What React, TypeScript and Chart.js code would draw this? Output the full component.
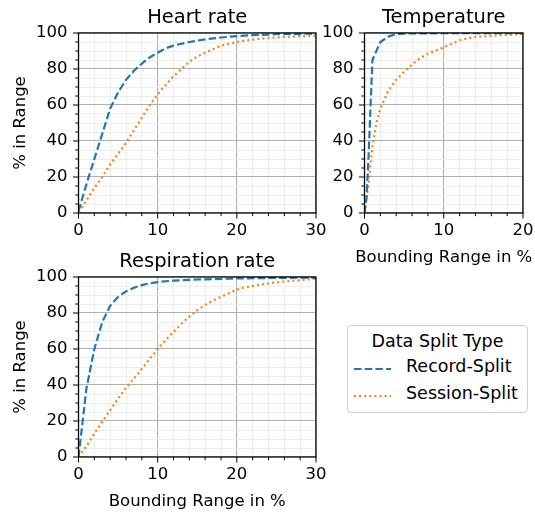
import React, { useEffect, useRef } from 'react';
import { Chart, registerables } from 'chart.js';

Chart.register(...registerables);

// ---------- data ----------
const heartRecordX = [0, 1, 2, 3, 4, 5, 6, 7, 8, 9, 10, 11, 12, 14, 16, 18, 20, 22, 25, 30];
const heartRecordY = [1, 16, 30, 44, 58, 67, 74, 79, 83, 86.5, 89, 91.5, 93, 95, 96.5, 97.5, 98.3, 98.8, 99.3, 99.7];
const heartSessionX = [0, 1, 2, 3, 4, 5, 6, 7, 8, 9, 10, 11, 12, 13, 14, 15, 16, 17, 18, 19, 20, 22, 24, 26, 28, 30];
const heartSessionY = [0.5, 7, 14, 20, 27, 33, 39, 46, 53, 60, 66, 71, 76, 80, 84, 87, 89, 91, 93, 94, 95, 96.3, 97.2, 97.8, 98.3, 98.6];

const tempRecordX = [0, 0.25, 0.5, 0.75, 1, 2, 3, 4, 5, 7, 10, 15, 20];
const tempRecordY = [0, 8, 30, 58, 85, 95, 98, 99.4, 99.7, 99.8, 99.9, 99.9, 100];
const tempSessionX = [0, 0.5, 1, 1.5, 2, 2.5, 3, 4, 5, 6, 7, 8, 9, 10, 11, 12, 13, 14, 16, 18, 20];
const tempSessionY = [0, 16, 37, 50, 58, 63, 68, 74, 78.5, 82.5, 86, 88.5, 90.3, 92, 94, 96, 97, 97.8, 98.5, 99, 99.5];

const respRecordX = [0, 1, 2, 3, 4, 5, 6, 7, 8, 9, 10, 12, 15, 20, 25, 30];
const respRecordY = [0, 38, 60, 75, 84, 89, 92, 94, 95.5, 96.5, 97.2, 98, 98.6, 99.2, 99.5, 99.7];
const respSessionX = [0, 1, 2, 3, 4, 5, 6, 7, 8, 9, 10, 11, 12, 13, 14, 15, 16, 17, 18, 19, 20, 21, 22, 24, 26, 28, 30];
const respSessionY = [0, 6, 13, 19.7, 26, 32.5, 38.6, 43.5, 49, 54.5, 60, 65, 69.5, 74, 78, 81.5, 84.5, 87, 89, 91, 93, 94.3, 95, 96.5, 97.5, 98.3, 99];

const seriesNames = ['Record-Split', 'Session-Split'];
const legendTitle = 'Data Split Type';
const panelTitles = ['Heart rate', 'Temperature', 'Respiration rate'];
const xAxisLabel = 'Bounding Range in %';
const yAxisLabel = '% in Range';
const xMaxes = [30, 20, 30];
const yMax = 100;
const xMajor = 10;
const xMinor = 2;
const yMajor = 20;
const yMinor = 5;

// ---------- styling ----------
const FONT = '"DejaVu Sans", sans-serif';
const BASE = 16.5;
const LEGEND_FONT = 17.5;
const TITLE = 19.5;
const BLUE = '#1f77b4';
const ORANGE = '#ff7f0e';
const DASH = [7.5, 3.2];
const DOT = [2, 3.1];

const zip = (xs: number[], ys: number[]) => xs.map((x, i) => ({ x, y: ys[i] }));

const decor = {
  id: 'decor',
  afterDraw(chart: any, _args: any, opts: any) {
    const { ctx, chartArea: a } = chart;
    const xs = chart.scales.x;
    const ys = chart.scales.y;
    ctx.save();
    ctx.strokeStyle = '#000';
    ctx.lineWidth = 1;
    ctx.beginPath();
    xs.ticks.forEach((t: any) => {
      const px = xs.getPixelForValue(t.value);
      const len = t.value % xMajor === 0 ? 5.5 : 3.2;
      ctx.moveTo(px, a.bottom);
      ctx.lineTo(px, a.bottom + len);
    });
    ys.ticks.forEach((t: any) => {
      const py = ys.getPixelForValue(t.value);
      const len = t.value % yMajor === 0 ? 5.5 : 3.2;
      ctx.moveTo(a.left, py);
      ctx.lineTo(a.left - len, py);
    });
    ctx.stroke();
    ctx.lineWidth = 1.25;
    ctx.strokeRect(a.left, a.top, a.right - a.left, a.bottom - a.top);

    ctx.fillStyle = '#000';
    ctx.textAlign = 'center';
    ctx.textBaseline = 'alphabetic';
    const cx = (a.left + a.right) / 2;
    ctx.font = `${TITLE}px ${FONT}`;
    ctx.fillText(opts.title, cx, a.top - 9.6);
    ctx.font = `${BASE}px ${FONT}`;
    if (opts.xLabel) ctx.fillText(opts.xLabel, cx, a.bottom + 48.5);
    if (opts.yLabel) {
      ctx.translate(24.5, (a.top + a.bottom) / 2);
      ctx.rotate(-Math.PI / 2);
      ctx.fillText(opts.yLabel, 0, 0);
    }
    ctx.restore();
  },
};

type Panel = {
  left: number; top: number; w: number; h: number;
  padTop: number; padRight: number; yWidth: number; xHeight: number;
  title: string; xMax: number; xLabel?: string; yLabel?: string;
  rec: { x: number; y: number }[]; ses: { x: number; y: number }[];
};

const panels: Panel[] = [
  {
    left: 0, top: 0, w: 330, h: 240, padTop: 33, padRight: 14, yWidth: 78.5, xHeight: 27,
    title: panelTitles[0], xMax: xMaxes[0], yLabel: yAxisLabel,
    rec: zip(heartRecordX, heartRecordY), ses: zip(heartSessionX, heartSessionY),
  },
  {
    left: 315, top: 0, w: 220, h: 270, padTop: 33, padRight: 12, yWidth: 49.5, xHeight: 57,
    title: panelTitles[1], xMax: xMaxes[1], xLabel: xAxisLabel,
    rec: zip(tempRecordX, tempRecordY), ses: zip(tempSessionX, tempSessionY),
  },
  {
    left: 0, top: 240, w: 330, h: 274, padTop: 37, padRight: 14, yWidth: 78.5, xHeight: 57,
    title: panelTitles[2], xMax: xMaxes[2], xLabel: xAxisLabel, yLabel: yAxisLabel,
    rec: zip(respRecordX, respRecordY), ses: zip(respSessionX, respSessionY),
  },
];

function buildConfig(p: Panel): any {
  const tickFont = { family: FONT, size: BASE };
  const zeroPad = (s: any) => {
    s.paddingLeft = 0; s.paddingRight = 0; s.paddingTop = 0; s.paddingBottom = 0;
  };
  return {
    type: 'line',
    data: {
      datasets: [
        {
          label: seriesNames[0], data: p.rec, borderColor: BLUE, borderWidth: 2.2,
          borderDash: DASH, pointRadius: 0, tension: 0, fill: false,
        },
        {
          label: seriesNames[1], data: p.ses, borderColor: ORANGE, borderWidth: 2.2,
          borderDash: DOT, pointRadius: 0, tension: 0, fill: false,
        },
      ],
    },
    options: {
      responsive: false,
      animation: false,
      devicePixelRatio: 1,
      layout: { padding: { left: 0, top: p.padTop, right: p.padRight, bottom: 0 } },
      plugins: {
        legend: { display: false },
        tooltip: { enabled: false },
        title: { display: false },
        decor: { title: p.title, xLabel: p.xLabel, yLabel: p.yLabel },
      },
      scales: {
        x: {
          type: 'linear', min: 0, max: p.xMax,
          border: { display: false },
          grid: {
            drawTicks: false,
            color: (c: any) => (c.tick && c.tick.value % xMajor === 0 ? '#b0b0b0' : '#ebebeb'),
            lineWidth: (c: any) => (c.tick && c.tick.value % xMajor === 0 ? 1.1 : 0.9),
          },
          ticks: {
            stepSize: xMinor, autoSkip: false, maxRotation: 0, padding: 8,
            color: '#000', font: tickFont,
            callback: (v: any) => (v % xMajor === 0 ? String(v) : ''),
          },
          afterFit: (s: any) => { s.height = p.xHeight; zeroPad(s); },
        },
        y: {
          type: 'linear', min: 0, max: yMax,
          border: { display: false },
          grid: {
            drawTicks: false,
            color: (c: any) => (c.tick && c.tick.value % yMajor === 0 ? '#b0b0b0' : '#ebebeb'),
            lineWidth: (c: any) => (c.tick && c.tick.value % yMajor === 0 ? 1.1 : 0.9),
          },
          ticks: {
            stepSize: yMinor, autoSkip: false, padding: 11,
            color: '#000', font: tickFont,
            callback: (v: any) => (v % yMajor === 0 ? String(v) : ''),
          },
          afterFit: (s: any) => { s.width = p.yWidth; zeroPad(s); },
        },
      },
    },
    plugins: [decor],
  };
}

function PanelChart({ p }: { p: Panel }) {
  const ref = useRef<HTMLCanvasElement>(null);
  useEffect(() => {
    const chart = new Chart(ref.current as HTMLCanvasElement, buildConfig(p));
    return () => chart.destroy();
  }, [p]);
  return (
    <canvas
      ref={ref}
      width={p.w}
      height={p.h}
      style={{ position: 'absolute', left: p.left, top: p.top, width: p.w, height: p.h }}
    />
  );
}

function LegendSample({ color, dash }: { color: string; dash: number[] }) {
  return (
    <svg width={37} height={6} style={{ position: 'absolute', left: 6, top: -3 }}>
      <line x1={0} y1={3} x2={37} y2={3} stroke={color} strokeWidth={2.2} strokeDasharray={dash.join(' ')} />
    </svg>
  );
}

export default function App() {
  const text: React.CSSProperties = {
    position: 'absolute', fontFamily: FONT, fontSize: LEGEND_FONT, lineHeight: '20px',
    color: '#000', whiteSpace: 'nowrap',
  };
  return (
    <div style={{ position: 'absolute', left: 0, top: 0, width: 535, height: 514, background: '#fff', overflow: 'hidden' }}>
      {panels.map((p, i) => <PanelChart key={i} p={p} />)}
      <div
        style={{
          position: 'absolute', left: 347, top: 325, width: 179, height: 86,
          border: '1px solid #d0d0d0', borderRadius: 4, background: '#fff',
        }}
      >
        <div style={{ ...text, left: 0, width: 179, textAlign: 'center', top: 4.5 }}>{legendTitle}</div>
        <div style={{ position: 'absolute', left: 0, top: 43 }}>
          <LegendSample color={BLUE} dash={DASH} />
        </div>
        <div style={{ ...text, left: 58, top: 30 }}>{seriesNames[0]}</div>
        <div style={{ position: 'absolute', left: 0, top: 70 }}>
          <LegendSample color={ORANGE} dash={DOT} />
        </div>
        <div style={{ ...text, left: 58, top: 56.5 }}>{seriesNames[1]}</div>
      </div>
    </div>
  );
}
